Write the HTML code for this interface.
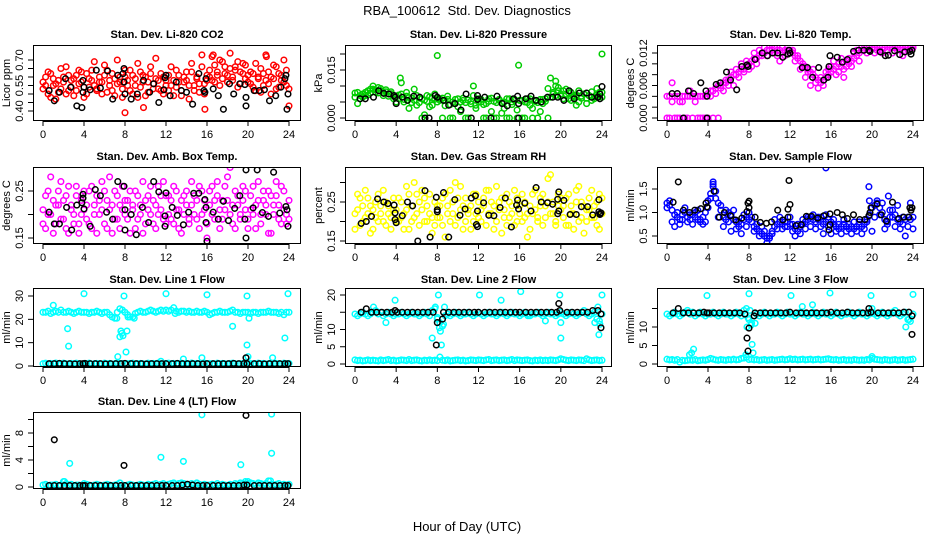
<!DOCTYPE html>
<html><head><meta charset="utf-8"><title>RBA_100612 Std. Dev. Diagnostics</title>
<style>
html,body{margin:0;padding:0;background:#fff;}
svg{display:block;font-family:"Liberation Sans",Arial,sans-serif;}
</style></head>
<body>
<svg id="chart" width="936" height="540" viewBox="0 0 936 540">
<rect x="0" y="0" width="936" height="540" fill="#fff"/>
<text x="467" y="15" font-size="13" text-anchor="middle">RBA_100612&#160; Std. Dev. Diagnostics</text>
<text x="467" y="531" font-size="13" text-anchor="middle">Hour of Day (UTC)</text>
</svg>
<script>
// ---------- shared x data ----------
const hoursGrid=[0,0.25,0.5,0.75,1,1.25,1.5,1.75,2,2.25,2.5,2.75,3,3.25,3.5,3.75,4,4.25,4.5,4.75,5,5.25,5.5,5.75,6,6.25,6.5,6.75,7,7.25,7.5,7.75,8,8.25,8.5,8.75,9,9.25,9.5,9.75,10,10.25,10.5,10.75,11,11.25,11.5,11.75,12,12.25,12.5,12.75,13,13.25,13.5,13.75,14,14.25,14.5,14.75,15,15.25,15.5,15.75,16,16.25,16.5,16.75,17,17.25,17.5,17.75,18,18.25,18.5,18.75,19,19.25,19.5,19.75,20,20.25,20.5,20.75,21,21.25,21.5,21.75,22,22.25,22.5,22.75,23,23.25,23.5,23.75,24];
const xTicks=[0,4,8,12,16,20,24];

// ---------- CO2 ----------
const co2A=[0.57,0.60,0.50,0.62,0.55,0.47,0.58,0.53,0.60,0.66,0.52,0.58,0.49,0.61,0.56,0.63,0.54,
0.50,0.59,0.64,0.55,0.52,0.60,0.57,0.67,0.51,0.58,0.62,0.49,0.56,0.60,0.53,0.64,
0.58,0.52,0.61,0.55,0.48,0.63,0.57,0.60,0.51,0.66,0.56,0.59,0.53,0.62,0.50,0.58,
0.61,0.55,0.49,0.64,0.57,0.52,0.60,0.58,0.47,0.63,0.55,0.59,0.51,0.66,0.56,0.61,
0.64,0.58,0.67,0.61,0.55,0.69,0.62,0.57,0.65,0.60,0.66,0.54,0.63,0.68,0.59,0.61,
0.56,0.62,0.52,0.60,0.65,0.55,0.58,0.63,0.50,0.59,0.66,0.54,0.61,0.57,0.64,0.53];
const co2B=[0.53,0.55,0.63,0.48,0.59,0.56,0.51,0.65,0.57,0.50,0.61,0.54,0.59,0.52,0.64,0.57,0.48,
0.62,0.54,0.58,0.69,0.53,0.57,0.50,0.61,0.64,0.55,0.52,0.59,0.70,0.57,0.48,0.60,
0.55,0.64,0.50,0.59,0.68,0.54,0.61,0.49,0.57,0.62,0.53,0.71,0.58,0.52,0.60,0.55,
0.52,0.66,0.58,0.54,0.61,0.49,0.57,0.63,0.55,0.68,0.52,0.60,0.56,0.73,0.50,0.58,
0.60,0.72,0.57,0.63,0.70,0.59,0.66,0.61,0.74,0.58,0.64,0.69,0.56,0.62,0.67,0.57,
0.63,0.54,0.68,0.59,0.51,0.62,0.73,0.56,0.60,0.67,0.53,0.62,0.58,0.70,0.55,0.43];
const co2OutHours=[8.0,9.8,15.8,16.6,21.8];
const co2OutVals=[0.39,0.42,0.41,0.73,0.72];
const co2BlackHours=[0.6,1.1,1.6,2.2,2.7,3.3,3.8,3.9,3.9,4.0,4.6,5.2,5.6,6.3,6.8,7.3,7.8,7.9,7.9,8.0,8.6,9.2,9.8,10.4,10.8,11.3,11.8,11.9,12.0,12.4,13.0,13.5,14.0,14.6,15.2,15.7,15.8,15.9,16.6,17.1,17.6,18.2,18.6,19.2,19.7,19.8,19.8,20.6,21.1,21.6,22.1,22.7,23.2,23.6,23.7,23.8,23.9];
const co2BlackVals=[0.52,0.46,0.51,0.59,0.54,0.43,0.42,0.58,0.51,0.54,0.525,0.64,0.535,0.635,0.47,0.61,0.62,0.65,0.57,0.50,0.47,0.50,0.58,0.51,0.56,0.45,0.525,0.595,0.61,0.49,0.57,0.52,0.51,0.44,0.62,0.52,0.51,0.59,0.53,0.49,0.41,0.56,0.50,0.56,0.555,0.43,0.48,0.52,0.52,0.525,0.46,0.49,0.54,0.59,0.61,0.41,0.50];

// ---------- Pressure ----------
const presA=[0.0065,0.0080,0.0060,0.0075,0.0070,0.0085,0.0078,0.0090,0.0080,0.0095,0.0085,0.0080,0.0088,0.0075,0.0082,0.0070,0.0068,
0.0060,0.0075,0.0050,0.0068,0.0030,0.0062,0.0055,0.0070,0.0048,0.0060,0.0010,0.0052,0.0066,0.0040,0.0058,0.0064,
0.0055,0.0062,0.0038,0.0058,0.0000,0.0050,0.0045,0.0060,0.0020,0.0055,0.0048,0.0000,0.0052,0.0070,0.0040,0.0060,
0.0050,0.0000,0.0045,0.0060,0.0020,0.0052,0.0000,0.0055,0.0048,0.0030,0.0060,0.0000,0.0050,0.0058,0.0025,0.0055,
0.0000,0.0050,0.0060,0.0040,0.0000,0.0055,0.0048,0.0020,0.0058,0.0052,0.0000,0.0065,0.0080,0.0070,0.0095,0.0075,
0.0085,0.0070,0.0060,0.0080,0.0065,0.0072,0.0050,0.0068,0.0075,0.0062,0.0070,0.0055,0.0066,0.0072,0.0080,0.0065];
const presB=[0.0078,0.0045,0.0070,0.0065,0.0080,0.0072,0.0090,0.0100,0.0088,0.0078,0.0092,0.0070,0.0082,0.0068,0.0076,0.0060,0.0050,
0.0072,0.0110,0.0058,0.0080,0.0064,0.0048,0.0090,0.0040,0.0062,0.0000,0.0056,0.0070,0.0035,0.0062,0.0075,0.0050,
0.0060,0.0000,0.0055,0.0068,0.0042,0.0000,0.0058,0.0035,0.0050,0.0062,0.0000,0.0056,0.0044,0.0100,0.0030,0.0050,
0.0058,0.0042,0.0000,0.0052,0.0062,0.0000,0.0048,0.0058,0.0015,0.0050,0.0000,0.0060,0.0042,0.0055,0.0000,0.0055,
0.0055,0.0000,0.0048,0.0060,0.0030,0.0052,0.0000,0.0058,0.0045,0.0060,0.0092,0.0125,0.0075,0.0100,0.0085,0.0068,
0.0060,0.0090,0.0078,0.0055,0.0070,0.0040,0.0085,0.0062,0.0075,0.0045,0.0070,0.0082,0.0060,0.0092,0.0068,0.0080];
const presOutHours=[4.4,8.0,15.9,19.5,24.0];
const presOutVals=[0.0125,0.0195,0.0165,0.0115,0.0200];
const presBlackHours=[0.5,1.0,1.8,2.3,2.8,3.3,3.8,3.9,4.0,4.6,5.1,5.7,6.3,6.8,7.2,7.8,8.0,8.6,9.1,9.7,10.3,10.8,11.3,11.9,11.9,12.6,13.2,13.8,14.3,14.8,15.4,15.8,15.9,15.9,16.6,17.1,17.6,18.1,18.7,19.2,19.7,20.3,20.8,21.3,21.8,22.5,23.0,23.6,23.8,23.8,24.0];
const presBlackVals=[0.0060,0.0060,0.0065,0.0085,0.0077,0.0075,0.0070,0.0065,0.0045,0.0065,0.0055,0.0068,0.0065,0.0000,0.0000,0.0070,0.0065,0.0055,0.0040,0.0045,0.0025,0.0075,0.0000,0.0070,0.0058,0.0065,0.0000,0.0068,0.0045,0.0038,0.0060,0.0068,0.0045,0.0000,0.0060,0.0068,0.0055,0.0050,0.0065,0.0065,0.0065,0.0055,0.0085,0.0060,0.0078,0.0078,0.0065,0.0065,0.0075,0.0060,0.0098];

// ---------- Li-820 Temp ----------
const tempA=[0.004,0.004,0.003,0.004,0.004,0.003,0.004,0.004,0.004,0.004,0.004,0.004,0.004,0.004,0.004,0.004,0.0045,
0.005,0.005,0.0055,0.006,0.006,0.0065,0.007,0.007,0.0075,0.008,0.008,0.0085,0.009,0.009,0.0095,0.010,
0.0105,0.011,0.011,0.0115,0.012,0.012,0.0125,0.0125,0.0125,0.013,0.0125,0.0125,0.012,0.0125,0.0125,0.0125,
0.012,0.0115,0.011,0.0105,0.010,0.0095,0.009,0.0085,0.008,0.0075,0.007,0.0065,0.007,0.0075,0.008,0.0085,
0.009,0.0095,0.010,0.0095,0.009,0.0095,0.010,0.0105,0.011,0.0115,0.012,0.0125,0.0125,0.013,0.0125,0.013,
0.013,0.0125,0.0125,0.013,0.013,0.0125,0.013,0.013,0.0135,0.013,0.013,0.0135,0.013,0.013,0.0135,0.013];
const tempB=[0.000,0.000,0.0065,0.000,0.000,0.000,0.003,0.000,0.000,0.005,0.000,0.003,0.000,0.000,0.000,0.000,0.000,
0.004,0.000,0.0045,0.000,0.0055,0.005,0.0065,0.006,0.0085,0.006,0.009,0.0075,0.010,0.0085,0.0105,0.009,
0.0095,0.012,0.010,0.0125,0.0115,0.013,0.0115,0.0125,0.0135,0.012,0.0115,0.0105,0.013,0.0115,0.0125,0.0120,
0.0125,0.0105,0.0115,0.009,0.0095,0.0075,0.0085,0.006,0.009,0.0065,0.0055,0.0075,0.006,0.0085,0.009,0.0095,
0.0105,0.008,0.0085,0.011,0.0075,0.0105,0.011,0.0095,0.012,0.0125,0.0105,0.013,0.0135,0.012,0.013,0.0135,
0.012,0.0135,0.013,0.012,0.0135,0.0125,0.0135,0.012,0.013,0.0135,0.0125,0.0115,0.0135,0.0125,0.013,0.0135];
const tempBlackHours=[0.5,1.0,1.6,2.1,2.6,3.3,3.8,3.9,3.9,4.8,5.2,5.8,6.2,6.8,7.3,7.8,7.9,8.6,9.3,9.8,10.3,10.8,11.3,11.8,11.9,12.0,13.2,13.7,14.2,14.8,15.3,15.7,15.8,15.9,16.6,17.1,17.6,18.2,18.7,19.2,19.7,19.8,20.8,21.3,21.6,22.2,22.7,23.2,23.7,23.8,23.9];
const tempBlackVals=[0.0045,0.0045,0.000,0.005,0.0045,0.0065,0.005,0.004,0.000,0.0062,0.0065,0.0085,0.007,0.0052,0.0095,0.0098,0.0095,0.0108,0.012,0.0115,0.012,0.012,0.0112,0.0118,0.0125,0.012,0.0093,0.0093,0.0075,0.0093,0.007,0.0075,0.0095,0.0115,0.0112,0.0103,0.0108,0.0123,0.0125,0.0125,0.0125,0.0123,0.0122,0.0115,0.0116,0.0124,0.0117,0.0122,0.0123,0.0118,0.0125];

// ---------- Amb Box Temp ----------
const ambA=[0.21,0.17,0.25,0.20,0.23,0.18,0.22,0.27,0.19,0.24,0.16,0.22,0.20,0.26,0.18,0.23,0.21,
0.19,0.25,0.17,0.22,0.24,0.20,0.27,0.18,0.23,0.21,0.16,0.25,0.19,0.22,0.26,0.20,
0.23,0.16,0.21,0.25,0.19,0.22,0.27,0.18,0.24,0.20,0.23,0.17,0.26,0.21,0.19,0.24,
0.20,0.23,0.18,0.25,0.21,0.16,0.24,0.22,0.19,0.27,0.20,0.23,0.17,0.25,0.21,0.15,
0.22,0.26,0.19,0.24,0.17,0.23,0.21,0.28,0.20,0.18,0.25,0.22,0.19,0.26,0.21,0.17,
0.24,0.20,0.22,0.27,0.18,0.23,0.20,0.25,0.16,0.22,0.24,0.19,0.26,0.21,0.18,0.23];
const ambB=[0.18,0.24,0.20,0.28,0.16,0.22,0.25,0.19,0.23,0.17,0.26,0.21,0.18,0.24,0.16,0.20,0.25,
0.22,0.18,0.26,0.20,0.16,0.23,0.21,0.25,0.17,0.28,0.22,0.19,0.24,0.17,0.21,0.23,
0.19,0.25,0.22,0.17,0.24,0.20,0.16,0.23,0.21,0.26,0.18,0.22,0.20,0.24,0.27,0.18,
0.24,0.19,0.26,0.21,0.17,0.23,0.20,0.25,0.18,0.22,0.24,0.19,0.26,0.20,0.23,0.18,
0.25,0.20,0.23,0.27,0.21,0.19,0.26,0.23,0.30,0.22,0.17,0.24,0.20,0.23,0.25,0.19,
0.21,0.26,0.17,0.23,0.20,0.25,0.22,0.16,0.24,0.20,0.27,0.22,0.18,0.25,0.20,0.19];
const ambBlackHours=[0.6,1.1,1.6,2.3,2.8,3.3,3.8,3.9,3.9,4.0,4.6,5.1,5.6,6.2,6.8,7.3,7.9,8.0,8.0,8.6,9.1,9.7,10.3,10.8,11.3,11.9,11.9,12.0,12.6,13.1,13.7,14.2,14.7,15.2,15.8,15.9,15.9,16.0,16.6,17.1,17.6,18.1,18.7,19.2,19.7,19.8,19.8,20.5,20.9,21.4,22.0,22.5,23.1,23.7,23.8,23.9];
const ambBlackVals=[0.205,0.18,0.18,0.215,0.167,0.22,0.225,0.235,0.243,0.212,0.175,0.253,0.24,0.205,0.19,0.27,0.26,0.21,0.167,0.2,0.157,0.215,0.183,0.27,0.248,0.175,0.197,0.246,0.215,0.198,0.178,0.205,0.245,0.245,0.232,0.215,0.183,0.143,0.205,0.19,0.228,0.187,0.213,0.24,0.19,0.15,0.295,0.214,0.295,0.204,0.196,0.29,0.203,0.217,0.21,0.175];

// ---------- Gas Stream RH ----------
const rhA=[0.22,0.27,0.19,0.24,0.21,0.26,0.17,0.23,0.25,0.20,0.22,0.28,0.19,0.24,0.21,0.26,0.23,
0.20,0.25,0.22,0.29,0.18,0.24,0.21,0.27,0.19,0.23,0.26,0.20,0.22,0.17,0.25,0.21,
0.24,0.19,0.27,0.22,0.20,0.25,0.30,0.21,0.23,0.18,0.26,0.22,0.24,0.20,0.27,0.21,
0.23,0.26,0.19,0.28,0.22,0.24,0.20,0.25,0.17,0.23,0.27,0.21,0.24,0.19,0.26,0.22,
0.20,0.25,0.22,0.18,0.27,0.23,0.21,0.26,0.19,0.24,0.31,0.22,0.25,0.20,0.27,0.23,
0.21,0.26,0.19,0.24,0.22,0.28,0.20,0.25,0.17,0.23,0.26,0.21,0.24,0.19,0.27,0.22];
const rhB=[0.18,0.23,0.26,0.20,0.28,0.22,0.24,0.18,0.21,0.27,0.24,0.20,0.25,0.22,0.18,0.23,0.20,
0.26,0.21,0.18,0.23,0.27,0.20,0.30,0.22,0.25,0.28,0.20,0.24,0.27,0.21,0.19,0.24,
0.21,0.26,0.16,0.24,0.28,0.22,0.19,0.26,0.29,0.24,0.20,0.23,0.18,0.27,0.22,0.25,
0.20,0.24,0.28,0.22,0.25,0.18,0.29,0.23,0.26,0.21,0.19,0.25,0.22,0.28,0.20,0.24,
0.27,0.21,0.16,0.24,0.22,0.28,0.20,0.24,0.27,0.21,0.25,0.32,0.22,0.19,0.24,0.26,
0.24,0.19,0.27,0.22,0.18,0.25,0.29,0.21,0.24,0.20,0.23,0.28,0.21,0.25,0.18,0.26];
const rhBlackHours=[0.6,1.1,1.6,2.2,2.8,3.2,3.8,3.9,3.9,4.0,4.6,5.1,5.6,6.1,6.8,7.3,7.9,8.0,8.0,8.6,9.1,9.7,10.2,10.7,11.3,11.7,11.8,11.9,11.9,12.5,13.0,13.5,14.1,14.6,15.2,15.7,15.8,15.9,16.5,17.1,17.6,18.1,18.7,19.2,19.7,19.7,19.8,19.8,20.3,20.9,21.5,22.0,22.6,23.1,23.7,23.7,23.8,23.8,23.9];
const rhBlackVals=[0.195,0.2,0.213,0.258,0.25,0.246,0.242,0.222,0.205,0.197,0.215,0.25,0.24,0.15,0.279,0.16,0.262,0.23,0.225,0.274,0.16,0.256,0.216,0.232,0.26,0.266,0.192,0.187,0.227,0.248,0.216,0.215,0.236,0.26,0.186,0.242,0.255,0.232,0.247,0.227,0.287,0.25,0.248,0.244,0.257,0.22,0.227,0.276,0.254,0.218,0.218,0.238,0.238,0.217,0.225,0.256,0.22,0.218,0.222];

// ---------- Sample Flow ----------
const flowA=[1.2,1.15,1.05,0.95,0.9,0.85,0.95,1.0,0.9,0.85,0.95,0.9,0.85,0.8,0.9,1.0,1.1,
1.4,1.55,1.45,1.2,1.05,0.9,0.85,1.0,0.95,0.85,0.8,0.7,0.75,0.85,0.9,1.0,
0.8,0.7,0.65,0.6,0.55,0.5,0.45,0.5,0.6,0.7,0.75,0.8,0.75,0.7,0.8,0.9,
0.75,0.65,0.6,0.7,0.75,0.8,0.85,0.9,0.85,0.8,0.85,0.9,0.75,0.8,0.85,0.8,
0.75,0.7,0.65,0.7,0.75,0.7,0.65,0.7,0.65,0.7,0.75,0.7,0.75,0.8,0.95,1.1,
1.15,1.2,1.1,1.0,0.85,0.8,0.9,1.05,0.95,0.85,0.8,0.75,0.85,0.9,0.85,0.9];
const flowB=[1.1,1.25,0.8,0.7,1.0,0.75,0.85,1.1,0.8,0.95,0.75,1.0,1.05,0.85,0.75,0.8,1.25,
1.3,1.6,1.3,0.9,1.15,0.7,1.05,0.8,0.6,1.05,0.65,0.8,0.55,0.95,0.7,0.85,
0.9,0.6,0.75,0.5,0.7,0.6,0.35,0.45,0.55,0.85,0.65,0.9,0.65,0.8,0.7,0.75,
0.6,0.5,0.75,0.55,0.85,0.65,0.9,0.7,0.95,0.65,0.9,0.7,0.55,0.95,0.7,0.55,
0.85,0.6,0.75,0.55,0.85,0.6,0.75,0.55,0.8,0.6,0.8,0.55,0.65,0.85,1.25,0.6,
0.9,1.25,0.95,1.2,0.65,0.75,1.05,0.9,0.7,1.15,0.65,0.9,0.5,0.7,1.2,0.65];
const flowOutHours=[4.5,15.5,19.7,21.6];
const flowOutVals=[1.65,1.95,1.55,1.35];
const flowBlackHours=[0.6,1.1,1.6,2.2,2.7,3.3,3.8,3.9,4.6,5.1,5.6,6.2,6.7,7.3,7.8,7.9,8.0,8.0,8.6,9.1,9.7,10.2,10.8,11.3,11.8,11.8,11.9,12.0,12.6,13.1,13.6,14.1,14.7,15.3,15.8,15.9,15.9,16.6,17.1,17.6,18.2,18.8,19.3,19.7,19.8,19.9,20.5,20.9,21.4,22.0,22.6,23.1,23.6,23.7,23.8,23.9];
const flowBlackVals=[1.22,1.65,1.05,1.0,1.05,1.08,1.2,1.12,1.45,0.9,1.0,0.93,0.84,0.88,1.02,1.2,1.24,1.1,0.9,0.79,0.77,0.8,1.05,0.84,0.9,1.07,1.68,1.17,0.72,0.74,0.92,0.92,0.88,0.93,0.63,0.74,0.97,1.0,0.95,0.87,0.95,0.85,0.85,0.93,1.0,1.1,1.18,0.95,0.82,1.22,0.87,0.9,0.9,1.1,1.05,1.1];

// ---------- Line flows (shared black sampling hours) ----------
const lineBlackHours=[0.6,1.1,1.6,2.1,2.6,3.1,3.6,3.9,4.1,4.6,5.1,5.6,6.1,6.6,7.1,7.6,8.0,8.6,9.1,9.6,10.1,10.6,11.1,11.6,12.0,12.6,13.1,13.6,14.1,14.6,15.1,15.6,16.0,16.6,17.1,17.6,18.1,18.6,19.1,19.6,19.9,20.6,21.1,21.6,22.1,22.6,23.1,23.6,23.9];

const line1High=[23,23,23.5,22.5,23,23.5,23,24,23,23,23.5,23,22.5,23,23.5,23,23,
23,22.5,23,23,23.5,23,22.5,23,23,22,21,20.5,23,24.5,24,23,
22,21,21,22.5,23,23.5,23,23,23.5,24,23.5,23,23.5,24,23.5,24,
23.5,24,25,23.5,23,23.5,23.5,23,23.5,23,23,23.5,23,23,23.5,23,
22,22.5,23,23,23.5,23,23,23,23.5,24,23,23,22.5,23,23,23,
22.5,23,23,22.5,23,23,23,23.5,23,23,23,22.5,23,22,23,23];
const line1Low=[1.0,1.2,0.9,1.1,1.0,1.3,0.9,1.0,1.2,1.0,0.9,1.1,1.0,1.2,1.0,0.9,1.1,
1.0,1.2,0.9,1.0,1.1,1.0,0.9,1.2,1.0,1.1,0.9,1.0,1.3,1.0,1.1,0.9,
1.0,1.1,1.2,0.9,1.0,1.1,1.0,0.9,1.2,1.0,1.1,1.0,1.3,1.0,0.9,1.1,
1.2,1.0,1.1,0.9,1.0,1.2,1.0,1.1,0.9,1.3,1.0,1.1,1.0,0.9,1.2,1.0,
1.1,1.0,0.9,1.2,1.0,1.1,1.0,0.9,1.1,1.2,1.0,0.9,1.0,1.1,1.3,1.0,
1.1,0.9,1.0,1.2,1.0,1.1,0.9,1.0,1.2,1.0,1.1,1.0,0.9,1.2,1.0,1.1];
const line1OutHours=[1.0,2.4,2.5,4.0,7.2,7.3,7.5,7.6,7.7,7.8,7.9,8.1,8.2,8.3,8.9,11.5,12.0,12.9,13.7,15.5,16.0,18.5,19.9,19.9,20.0,20.1,22.4,23.6,23.9];
const line1OutVals=[26,16,8.5,31,20.5,4,12.5,15,14,13,30,6,15,21,20.5,2,31,22.5,3,3.5,30.5,17,30,9,4,20.5,3.5,12,31];
const line1Black=[1.0,1.0,1.1,1.0,1.0,0.9,1.0,1.0,1.1,1.0,1.0,1.0,0.9,1.0,1.0,1.0,1.1,1.0,1.0,1.0,0.9,1.0,1.0,1.0,1.0,1.0,1.1,1.0,1.0,1.0,1.0,0.9,1.0,1.0,1.0,1.0,1.0,1.1,1.0,1.0,1.0,1.0,1.0,0.9,1.0,1.0,1.0,1.0,1.0];
const line1BlackExtraHours=[19.8];
const line1BlackExtraVals=[3.5];

const line2High=[14.5,14.0,14.5,15.0,14.5,14.0,14.5,15.0,15.5,14.5,15.0,14.0,14.5,15.0,14.5,14.0,14.5,
14.5,15.0,14.5,14.0,14.5,15.0,14.5,14.5,14.0,14.5,15.0,14.5,14.0,15.5,16.0,13.0,
12.0,11.0,14.0,14.5,14.0,14.5,15.0,14.5,14.0,14.5,14.5,15.0,14.5,14.0,14.5,15.0,
14.5,14.0,14.5,15.0,14.5,14.5,14.0,14.5,15.0,14.5,14.0,14.5,15.0,14.5,14.5,14.0,
14.5,15.0,14.5,14.0,14.5,14.5,15.0,14.5,14.0,14.5,15.0,14.5,14.5,14.0,14.5,15.0,
14.5,14.0,14.5,15.0,14.5,14.0,14.5,15.0,15.5,14.5,14.0,14.5,15.0,13.0,12.5,14.5];
const line2Low=[1.2,1.0,1.1,0.9,1.0,1.2,1.0,1.1,1.0,0.9,1.2,1.0,1.1,1.3,1.0,1.1,0.9,
1.0,1.2,1.1,1.0,1.3,1.0,1.1,1.2,1.0,0.9,1.1,1.0,1.2,1.0,1.1,1.0,
2.0,1.1,1.0,1.2,0.9,1.0,1.1,1.2,1.0,1.1,0.9,1.0,1.2,1.1,1.0,1.2,
1.1,1.0,1.2,1.3,1.0,1.1,1.2,1.0,1.1,1.2,1.0,1.1,1.3,1.0,1.2,1.1,
1.0,1.1,1.2,1.0,0.9,1.1,1.0,1.2,1.0,1.1,1.0,1.2,1.1,1.0,1.2,1.5,
1.3,1.1,1.0,1.2,1.1,1.0,1.2,1.1,1.0,1.5,1.2,1.0,1.1,1.2,1.0,1.1];
const line2OutHours=[1.8,3.0,3.9,7.5,7.8,8.0,8.1,8.2,8.3,8.4,8.6,8.7,12.1,14.2,16.1,16.8,18.5,19.9,20.0,20.0,23.3,23.6,23.7,23.8,24.0];
const line2OutVals=[16.5,12,18.5,7.5,16.5,13.5,20,10.5,9.5,5.5,11.5,16.5,20,18.5,21,14,12.5,20,12,7.5,12,16.5,8.5,11.5,20];
const line2Black=[15.0,16.0,15.0,15.0,15.0,15.0,15.0,15.5,15.0,15.0,15.0,15.0,15.0,15.0,15.0,15.0,12.0,15.0,15.0,15.0,15.0,15.0,15.0,15.0,15.0,15.0,15.0,15.0,15.0,15.0,15.0,15.0,15.0,15.0,15.0,15.0,15.0,15.0,15.0,15.0,15.5,15.0,15.0,15.0,15.0,15.0,15.5,15.5,14.5];
const line2BlackExtraHours=[7.9,8.5,19.8,23.9];
const line2BlackExtraVals=[5.5,13,17.5,10.5];

const line3High=[13.5,13.0,13.5,14.0,13.5,13.0,13.5,14.0,14.5,13.5,14.0,13.0,13.5,14.0,13.5,13.0,13.5,
13.5,14.0,13.5,13.0,13.5,14.0,13.5,13.5,13.0,13.5,14.0,13.5,13.0,14.5,15.0,12.0,
11.0,13.0,13.5,13.0,13.5,14.0,13.5,13.0,13.5,13.5,14.0,13.5,13.0,13.5,14.0,13.5,
13.5,13.0,13.5,14.0,13.5,13.5,13.0,13.5,14.0,13.5,13.0,13.5,14.0,13.5,13.5,13.0,
13.5,14.0,13.5,13.0,13.5,13.5,14.0,13.5,13.0,13.5,14.0,13.5,13.5,13.0,13.5,14.0,
13.5,13.0,13.5,14.0,13.5,13.0,13.5,14.0,14.5,13.5,13.0,13.5,14.0,12.0,11.5,13.5];
const line3Low=[1.3,1.1,1.2,1.0,1.2,0.5,1.0,0.9,1.0,1.1,1.0,1.2,0.9,1.0,1.1,1.0,1.2,
1.5,1.3,1.1,1.0,1.2,1.1,1.0,1.2,1.1,1.3,1.1,1.2,1.5,1.6,1.8,1.2,
1.3,1.1,1.2,1.0,1.1,1.2,1.0,1.1,1.2,1.0,1.1,1.2,1.3,1.1,1.2,1.4,
1.2,1.3,1.1,1.2,1.3,1.1,1.2,1.3,1.1,1.2,1.3,1.1,1.2,1.3,1.4,1.2,
1.1,1.2,1.0,1.1,1.2,1.0,1.1,1.0,1.2,1.1,1.0,1.1,1.0,1.2,1.1,1.5,
1.3,1.2,1.1,1.0,1.2,1.1,1.0,1.1,1.2,1.0,1.1,1.2,1.0,1.1,1.2,1.3];
const line3OutHours=[2.2,2.4,2.6,3.9,7.7,7.8,7.9,8.0,8.1,8.2,8.3,8.4,8.6,12.1,13.2,14.2,15.9,19.9,20.0,20.0,23.3,23.6,24.0];
const line3OutVals=[2.5,3,4,18.5,2.5,10,12.5,19,14.5,10.5,5.3,3,11,18.5,15.5,16,19.2,18.5,15,2,10,12,18.8];
const line3Black=[13.8,15.0,13.8,13.8,13.8,13.8,14.0,13.8,13.8,13.8,13.8,13.8,13.8,13.8,13.8,13.5,9.7,13.8,13.8,13.8,13.8,13.8,13.8,13.8,14.0,13.8,13.8,13.8,13.8,13.8,13.8,13.8,14.0,13.8,13.8,14.0,13.8,13.8,13.8,13.8,14.0,13.8,13.8,13.8,13.8,13.8,14.0,14.0,13.0];
const line3BlackExtraHours=[7.8,7.9,8.5,19.7,23.9];
const line3BlackExtraVals=[7,3.5,13,15,8];

const line4Low=[0.3,0.4,0.2,0.3,0.3,0.4,0.2,0.3,0.8,0.5,0.3,0.4,0.2,0.3,0.3,0.2,0.5,
0.4,0.3,0.2,0.3,0.4,0.3,0.2,0.3,0.4,0.3,0.2,0.3,0.4,0.6,0.3,0.2,
0.3,0.4,0.3,0.2,0.3,0.4,0.3,0.2,0.4,0.3,0.4,0.5,0.3,0.4,0.5,0.3,
0.4,0.5,0.6,0.4,0.5,0.6,0.5,0.4,0.3,0.5,0.4,0.6,0.4,0.3,0.4,0.3,
0.3,0.4,0.3,0.5,0.3,0.4,0.3,0.2,0.4,0.3,0.5,0.4,0.6,0.5,0.8,0.5,
0.6,0.5,0.4,0.6,0.5,0.4,0.5,0.9,0.4,0.3,0.4,0.5,0.3,0.4,0.3,0.4];
const line4OutHours=[2.1,2.6,11.5,13.7,15.5,19.3,20.0,22.2,22.3,22.3];
const line4OutVals=[0.8,3.5,4.4,3.8,10.7,3.3,0.8,0.9,10.8,5];
const line4Black=[0.2,0.2,0.2,0.2,0.2,0.2,0.2,0.2,0.2,0.2,0.2,0.2,0.2,0.2,0.2,0.2,0.2,0.2,0.2,0.2,0.2,0.2,0.2,0.2,0.2,0.2,0.2,0.3,0.4,0.3,0.2,0.2,0.2,0.2,0.2,0.2,0.2,0.2,0.2,0.3,0.3,0.2,0.2,0.2,0.2,0.2,0.2,0.2,0.2];
const line4BlackExtraHours=[1.1,7.9,19.8];
const line4BlackExtraVals=[7,3.2,10.6];

// ---------- tick arrays ----------
const co2Ticks=[0.40,0.45,0.50,0.55,0.60,0.65,0.70];
const co2TickLabels=["0.40","","","0.55","","","0.70"];
const presTicks=[0,0.005,0.010,0.015,0.020];
const presTickLabels=["0.000","","","0.015",""];
const tempTicks=[0,0.002,0.004,0.006,0.008,0.010,0.012];
const tempTickLabels=["0.000","","","0.006","","","0.012"];
const ambTicks=[0.15,0.20,0.25];
const ambTickLabels=["0.15","","0.25"];
const rhTicks=[0.15,0.20,0.25,0.30];
const rhTickLabels=["0.15","","0.25",""];
const flowTicks=[0.5,1.0,1.5];
const flowTickLabels=["0.5","1.0","1.5"];
const l1Ticks=[0,10,20,30];
const l1TickLabels=["0","10","20","30"];
const l2Ticks=[0,5,10,15,20];
const l2TickLabels=["0","5","10","","20"];
const l3Ticks=[0,5,10,15];
const l3TickLabels=["0","5","10",""];
const l4Ticks=[0,2,4,6,8,10];
const l4TickLabels=["0","","4","","8",""];

// ---------- layout ----------
const COLS=[[33,301,43,289],[345,612,355,602],[657,924,667,913]];
const ROWS=[[45,121,38],[167,244,160],[288,367,283],[412,489,405]];
const CYAN='#00ffff',BLK='#000000';

const panels=[
 {name:'co2',title:'Stan. Dev. Li-820 CO2',ylab:'Licor ppm',c:0,r:0,map:[0.40,111,0.70,60],ticks:co2Ticks,tl:co2TickLabels,
  series:[[hoursGrid,co2A,'#ff0000'],[hoursGrid,co2B,'#ff0000'],[co2OutHours,co2OutVals,'#ff0000'],[co2BlackHours,co2BlackVals,BLK]]},
 {name:'pressure',title:'Stan. Dev. Li-820 Pressure',ylab:'kPa',c:1,r:0,map:[0,118,0.015,70],ticks:presTicks,tl:presTickLabels,
  series:[[hoursGrid,presA,'#00cc00'],[hoursGrid,presB,'#00cc00'],[presOutHours,presOutVals,'#00cc00'],[presBlackHours,presBlackVals,BLK]]},
 {name:'li820-temp',title:'Stan. Dev. Li-820 Temp.',ylab:'degrees C',c:2,r:0,map:[0,118,0.012,53],ticks:tempTicks,tl:tempTickLabels,
  series:[[hoursGrid,tempA,'#ff00ff'],[hoursGrid,tempB,'#ff00ff'],[tempBlackHours,tempBlackVals,BLK]]},
 {name:'amb-box-temp',title:'Stan. Dev. Amb. Box Temp.',ylab:'degrees C',c:0,r:1,map:[0.15,238,0.25,191],ticks:ambTicks,tl:ambTickLabels,
  series:[[hoursGrid,ambA,'#ff00ff'],[hoursGrid,ambB,'#ff00ff'],[ambBlackHours,ambBlackVals,BLK]]},
 {name:'gas-stream-rh',title:'Stan. Dev. Gas Stream RH',ylab:'percent',c:1,r:1,map:[0.15,241,0.25,202],ticks:rhTicks,tl:rhTickLabels,
  series:[[hoursGrid,rhA,'#ffff00'],[hoursGrid,rhB,'#ffff00'],[rhBlackHours,rhBlackVals,BLK]]},
 {name:'sample-flow',title:'Stan. Dev. Sample Flow',ylab:'ml/min',c:2,r:1,map:[0.5,236,1.5,189],ticks:flowTicks,tl:flowTickLabels,
  series:[[hoursGrid,flowA,'#0000ff'],[hoursGrid,flowB,'#0000ff'],[flowOutHours,flowOutVals,'#0000ff'],[flowBlackHours,flowBlackVals,BLK]]},
 {name:'line1-flow',title:'Stan. Dev. Line 1 Flow',ylab:'ml/min',c:0,r:2,map:[0,366,30,296],ticks:l1Ticks,tl:l1TickLabels,
  series:[[hoursGrid,line1High,CYAN],[hoursGrid,line1Low,CYAN],[line1OutHours,line1OutVals,CYAN],[lineBlackHours,line1Black,BLK],[line1BlackExtraHours,line1BlackExtraVals,BLK]]},
 {name:'line2-flow',title:'Stan. Dev. Line 2 Flow',ylab:'ml/min',c:1,r:2,map:[0,364,20,295],ticks:l2Ticks,tl:l2TickLabels,
  series:[[hoursGrid,line2High,CYAN],[hoursGrid,line2Low,CYAN],[line2OutHours,line2OutVals,CYAN],[lineBlackHours,line2Black,BLK],[line2BlackExtraHours,line2BlackExtraVals,BLK]]},
 {name:'line3-flow',title:'Stan. Dev. Line 3 Flow',ylab:'ml/min',c:2,r:2,map:[0,364,10,327],ticks:l3Ticks,tl:l3TickLabels,
  series:[[hoursGrid,line3High,CYAN],[hoursGrid,line3Low,CYAN],[line3OutHours,line3OutVals,CYAN],[lineBlackHours,line3Black,BLK],[line3BlackExtraHours,line3BlackExtraVals,BLK]]},
 {name:'line4-flow',title:'Stan. Dev. Line 4 (LT) Flow',ylab:'ml/min',c:0,r:3,map:[0,487,8,433],ticks:l4Ticks,tl:l4TickLabels,
  series:[[hoursGrid,line4Low,CYAN],[line4OutHours,line4OutVals,CYAN],[lineBlackHours,line4Black,BLK],[line4BlackExtraHours,line4BlackExtraVals,BLK]]}
];

const NS='http://www.w3.org/2000/svg';
const svg=document.getElementById('chart');
const defs=document.createElementNS(NS,'defs');
svg.appendChild(defs);
function el(tag,parent){const e=document.createElementNS(NS,tag);parent.appendChild(e);return e;}

panels.forEach(function(p,pi){
  const col=COLS[p.c],row=ROWS[p.r];
  const L=col[0],R=col[1],T=row[0],B=row[1];
  const xs=function(h){return col[2]+(h/24)*(col[3]-col[2]);};
  const ys=function(v){return p.map[1]+(v-p.map[0])*(p.map[3]-p.map[1])/(p.map[2]-p.map[0]);};
  const g=el('g',svg);
  
  

  const cp=el('clipPath',defs);
  cp.setAttribute('id','clip'+pi);
  const cr=el('rect',cp);
  cr.setAttribute('x',L);cr.setAttribute('y',T);cr.setAttribute('width',R-L);cr.setAttribute('height',B-T);

  const t=el('text',g);
  
  
  t.setAttribute('x',(L+R)/2);t.setAttribute('y',row[2]);
  t.setAttribute('text-anchor','middle');t.setAttribute('font-size','11');t.setAttribute('font-weight','bold');
  t.textContent=p.title;

  const yl=el('text',g);
  
  
  const ym=(T+B)/2;
  yl.setAttribute('transform','translate('+(L-23)+','+ym+') rotate(-90)');
  yl.setAttribute('text-anchor','middle');yl.setAttribute('font-size','11');
  yl.textContent=p.ylab;

  const pts=el('g',g);
  
  
  pts.setAttribute('clip-path','url(#clip'+pi+')');
  p.series.forEach(function(s){
    const hs=s[0],vs=s[1];
    for(let i=0;i<vs.length;i++){
      const c=el('circle',pts);
      
      
      c.setAttribute('cx',xs(hs[i]).toFixed(1));c.setAttribute('cy',ys(vs[i]).toFixed(1));
      c.setAttribute('r','2.8');c.setAttribute('fill','none');c.setAttribute('stroke',s[2]);c.setAttribute('stroke-width','1.5');
    }
  });

  const box=el('rect',g);
  
  
  box.setAttribute('x',L+0.5);box.setAttribute('y',T+0.5);box.setAttribute('width',R-L-1);box.setAttribute('height',B-T-1);
  box.setAttribute('fill','none');box.setAttribute('stroke','#000');box.setAttribute('stroke-width','1');

  const xa=el('g',g);
  
  
  const xl=el('line',xa);
  xl.setAttribute('x1',xs(xTicks[0]));xl.setAttribute('x2',xs(xTicks[xTicks.length-1]));
  xl.setAttribute('y1',B+0.5);xl.setAttribute('y2',B+0.5);xl.setAttribute('stroke','#000');
  xTicks.forEach(function(h){
    const tk=el('line',xa);
    tk.setAttribute('x1',xs(h));tk.setAttribute('x2',xs(h));tk.setAttribute('y1',B);tk.setAttribute('y2',B+5);tk.setAttribute('stroke','#000');
    const lb=el('text',xa);
    
    
    lb.setAttribute('x',xs(h));lb.setAttribute('y',B+17);lb.setAttribute('text-anchor','middle');lb.setAttribute('font-size','11');
    lb.textContent=String(h);
  });

  const ya=el('g',g);
  
  
  p.ticks.forEach(function(v,i){
    const y=ys(v);
    const tk=el('line',ya);
    tk.setAttribute('x1',L-5);tk.setAttribute('x2',L);tk.setAttribute('y1',y);tk.setAttribute('y2',y);tk.setAttribute('stroke','#000');
    if(p.tl[i]){
      const lb=el('text',ya);
      
      
      lb.setAttribute('transform','translate('+(L-10)+','+y+') rotate(-90)');
      lb.setAttribute('text-anchor','middle');lb.setAttribute('font-size','11');
      lb.textContent=p.tl[i];
    }
  });
  const yline=el('line',ya);
  yline.setAttribute('x1',L+0.5);yline.setAttribute('x2',L+0.5);
  yline.setAttribute('y1',ys(p.ticks[0]));yline.setAttribute('y2',ys(p.ticks[p.ticks.length-1]));yline.setAttribute('stroke','#000');
});
</script>
</body></html>
